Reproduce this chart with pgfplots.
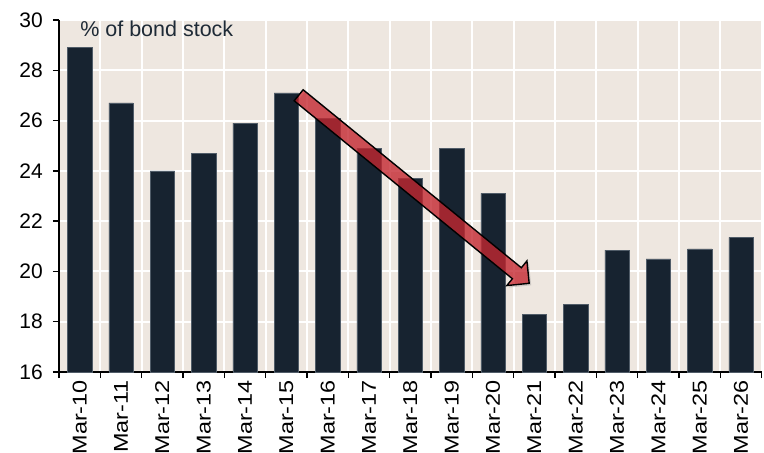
\documentclass[border=0pt]{standalone}
\usepackage{fontspec}
\setmainfont{Liberation Sans}
\usepackage{graphicx}
\usepackage{pgfplots}
\pgfplotsset{compat=1.18}
\usetikzlibrary{shadows}
\definecolor{bg}{RGB}{238,231,224}
\definecolor{barc}{RGB}{23,35,48}
\definecolor{baredge}{RGB}{80,92,104}
\definecolor{arrowred}{RGB}{205,28,38}
\definecolor{titlec}{RGB}{30,42,54}
\pgfplotstableread{
x val
0 28.9
1 26.7
2 24.0
3 24.7
4 25.9
5 27.1
6 26.1
7 24.9
8 23.7
9 24.9
10 23.1
11 18.3
12 18.7
13 20.85
14 20.5
15 20.9
16 21.35
}\bonddata
\newcommand{\xl}[1]{\scalebox{1.17}[1]{#1}}
\begin{document}
\begin{tikzpicture}[font=\fontsize{19}{22}\selectfont]
\begin{axis}[
  scale only axis, width=702.7pt, height=352pt,
  xmin=-0.5, xmax=16.5, ymin=16, ymax=30,
  ytick={16,18,...,30},
  xtick={0,...,16},
  xticklabels={\xl{Mar-10},\xl{Mar-11},\xl{Mar-12},\xl{Mar-13},\xl{Mar-14},\xl{Mar-15},\xl{Mar-16},\xl{Mar-17},\xl{Mar-18},\xl{Mar-19},\xl{Mar-20},\xl{Mar-21},\xl{Mar-22},\xl{Mar-23},\xl{Mar-24},\xl{Mar-25},\xl{Mar-26}},
  minor xtick={-0.5,0.5,...,16.5},
  xminorgrids, ymajorgrids,
  major grid style={white, line width=2pt},
  minor grid style={white, line width=2pt},
  axis background/.style={fill=bg},
  axis x line*=bottom, axis y line*=left,
  axis line style={black, line width=1.5pt},
  tick align=outside,
  major tick length=6pt, minor tick length=6pt,
  tick style={black, line width=1.3pt},
  major x tick style={draw=none},
  /pgf/number format/assume math mode=true,
  ticklabel style={text=black},
  xticklabel style={font=\fontsize{20}{23}\selectfont, rotate=90, anchor=east, inner sep=2pt},
  yticklabel style={font=\fontsize{21}{24}\selectfont, inner sep=2pt, xshift=-8pt},
  clip=false,
]
\addplot[ybar, bar width=0.59, fill=barc, draw=baredge, line width=0.5pt] table[x=x, y=val] {\bonddata};
\node[anchor=base west, text=titlec, font=\fontsize{21.5}{25}\selectfont, inner sep=0pt] at (rel axis cs:0.030,0.9545) {\% of bond stock};
\coordinate (A) at (axis cs:5.298,27.006);
\coordinate (SW) at (rel axis cs:0,0);
\coordinate (NE) at (rel axis cs:1,1);
\end{axis}
\begin{scope}[shift={(A)}, rotate=-39.2]
\path[drop shadow={shadow xshift=2pt, shadow yshift=-2pt, opacity=0.3}, fill=arrowred, fill opacity=0.7, draw=black, line width=1.4pt, line join=miter]
  (0,7.1pt) -- (281.6pt,7.1pt) -- (281.6pt,15.9pt) -- (297.5pt,0pt) -- (281.6pt,-15.9pt) -- (281.6pt,-7.1pt) -- (0,-7.1pt) -- cycle;
\end{scope}
\pgfresetboundingbox
\path ([shift={(-59pt,-81pt)}]SW) rectangle ([shift={(2.3pt,20pt)}]NE);
\end{tikzpicture}
\end{document}
